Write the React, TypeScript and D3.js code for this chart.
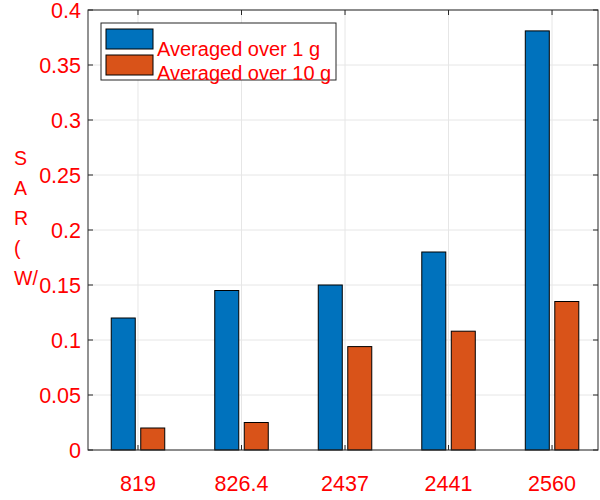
import * as d3 from "d3";

const categories = ["819", "826.4", "2437", "2441", "2560"];
const avg1g = [0.12, 0.145, 0.15, 0.18, 0.381];
const avg10g = [0.02, 0.025, 0.094, 0.108, 0.135];
const yTicks = [0, 0.05, 0.1, 0.15, 0.2, 0.25, 0.3, 0.35, 0.4];
const yLabelChars = ["S", "A", "R", "(", "W/"];
const legendLabels = ["Averaged over 1 g", "Averaged over 10 g"];

const width = 600;
const height = 500;
const left = 88;
const right = 598;
const top = 10;
const bottom = 450;
const blue = "#0072BD";
const orange = "#D95319";
const red = "#FF0000";
const axisColor = "#262626";
const font = "Liberation Sans, Arial, sans-serif";

export default function App() {
  const x = d3.scaleLinear([0.517, 5.444], [left, right]);
  const y = d3.scaleLinear([0, 0.4], [bottom, top]);
  const barW = 24;
  const off = 14.75;

  return (
    <svg
      width={width}
      height={height}
      style={{ position: "absolute", left: 0, top: 0 }}
      fontFamily={font}
    >
      {/* grid */}
      <g stroke="#e6e6e6" strokeWidth={1}>
        {yTicks.map((t) => (
          <line key={t} x1={left} x2={right} y1={y(t)} y2={y(t)} />
        ))}
        {categories.map((c, i) => (
          <line key={c} x1={x(i + 1)} x2={x(i + 1)} y1={top} y2={bottom} />
        ))}
      </g>

      {/* bars */}
      <g stroke="#000" strokeWidth={1}>
        {avg1g.map((v, i) => (
          <rect
            key={"a" + i}
            x={x(i + 1) - off - barW / 2}
            y={y(v)}
            width={barW}
            height={y(0) - y(v)}
            fill={blue}
          />
        ))}
        {avg10g.map((v, i) => (
          <rect
            key={"b" + i}
            x={x(i + 1) + off - barW / 2}
            y={y(v)}
            width={barW}
            height={y(0) - y(v)}
            fill={orange}
          />
        ))}
      </g>

      {/* axes box */}
      <rect
        x={left}
        y={top}
        width={right - left}
        height={bottom - top}
        fill="none"
        stroke={axisColor}
        strokeWidth={1}
      />
      <g stroke={axisColor} strokeWidth={1}>
        {yTicks.map((t) => (
          <g key={t}>
            <line x1={left} x2={left + 5} y1={y(t)} y2={y(t)} />
            <line x1={right} x2={right - 5} y1={y(t)} y2={y(t)} />
          </g>
        ))}
        {categories.map((c, i) => (
          <g key={c}>
            <line x1={x(i + 1)} x2={x(i + 1)} y1={bottom} y2={bottom - 5} />
            <line x1={x(i + 1)} x2={x(i + 1)} y1={top} y2={top + 5} />
          </g>
        ))}
      </g>

      {/* tick labels */}
      <g fill={red} fontSize={21.5}>
        {yTicks.map((t) => (
          <text key={t} x={left - 7} y={y(t)} dy="0.36em" textAnchor="end">
            {d3.format("~g")(t)}
          </text>
        ))}
        {categories.map((c, i) => (
          <text key={c} x={x(i + 1)} y={491} textAnchor="middle">
            {c}
          </text>
        ))}
      </g>

      {/* y label */}
      <g fill={red} fontSize={19.5}>
        {yLabelChars.map((ch, i) => (
          <text key={i} x={14} y={165 + i * 30}>
            {ch}
          </text>
        ))}
      </g>

      {/* legend */}
      <g>
        <rect x={101} y={23} width={235} height={57} fill="#fff" stroke={axisColor} strokeWidth={1} />
        {legendLabels.map((l, i) => (
          <g key={l}>
            <rect
              x={106}
              y={29 + i * 26}
              width={47}
              height={20}
              fill={i === 0 ? blue : orange}
              stroke="#000"
            />
            <text x={157} y={56 + i * 24} fill={red} fontSize={20}>
              {l}
            </text>
          </g>
        ))}
      </g>
    </svg>
  );
}
